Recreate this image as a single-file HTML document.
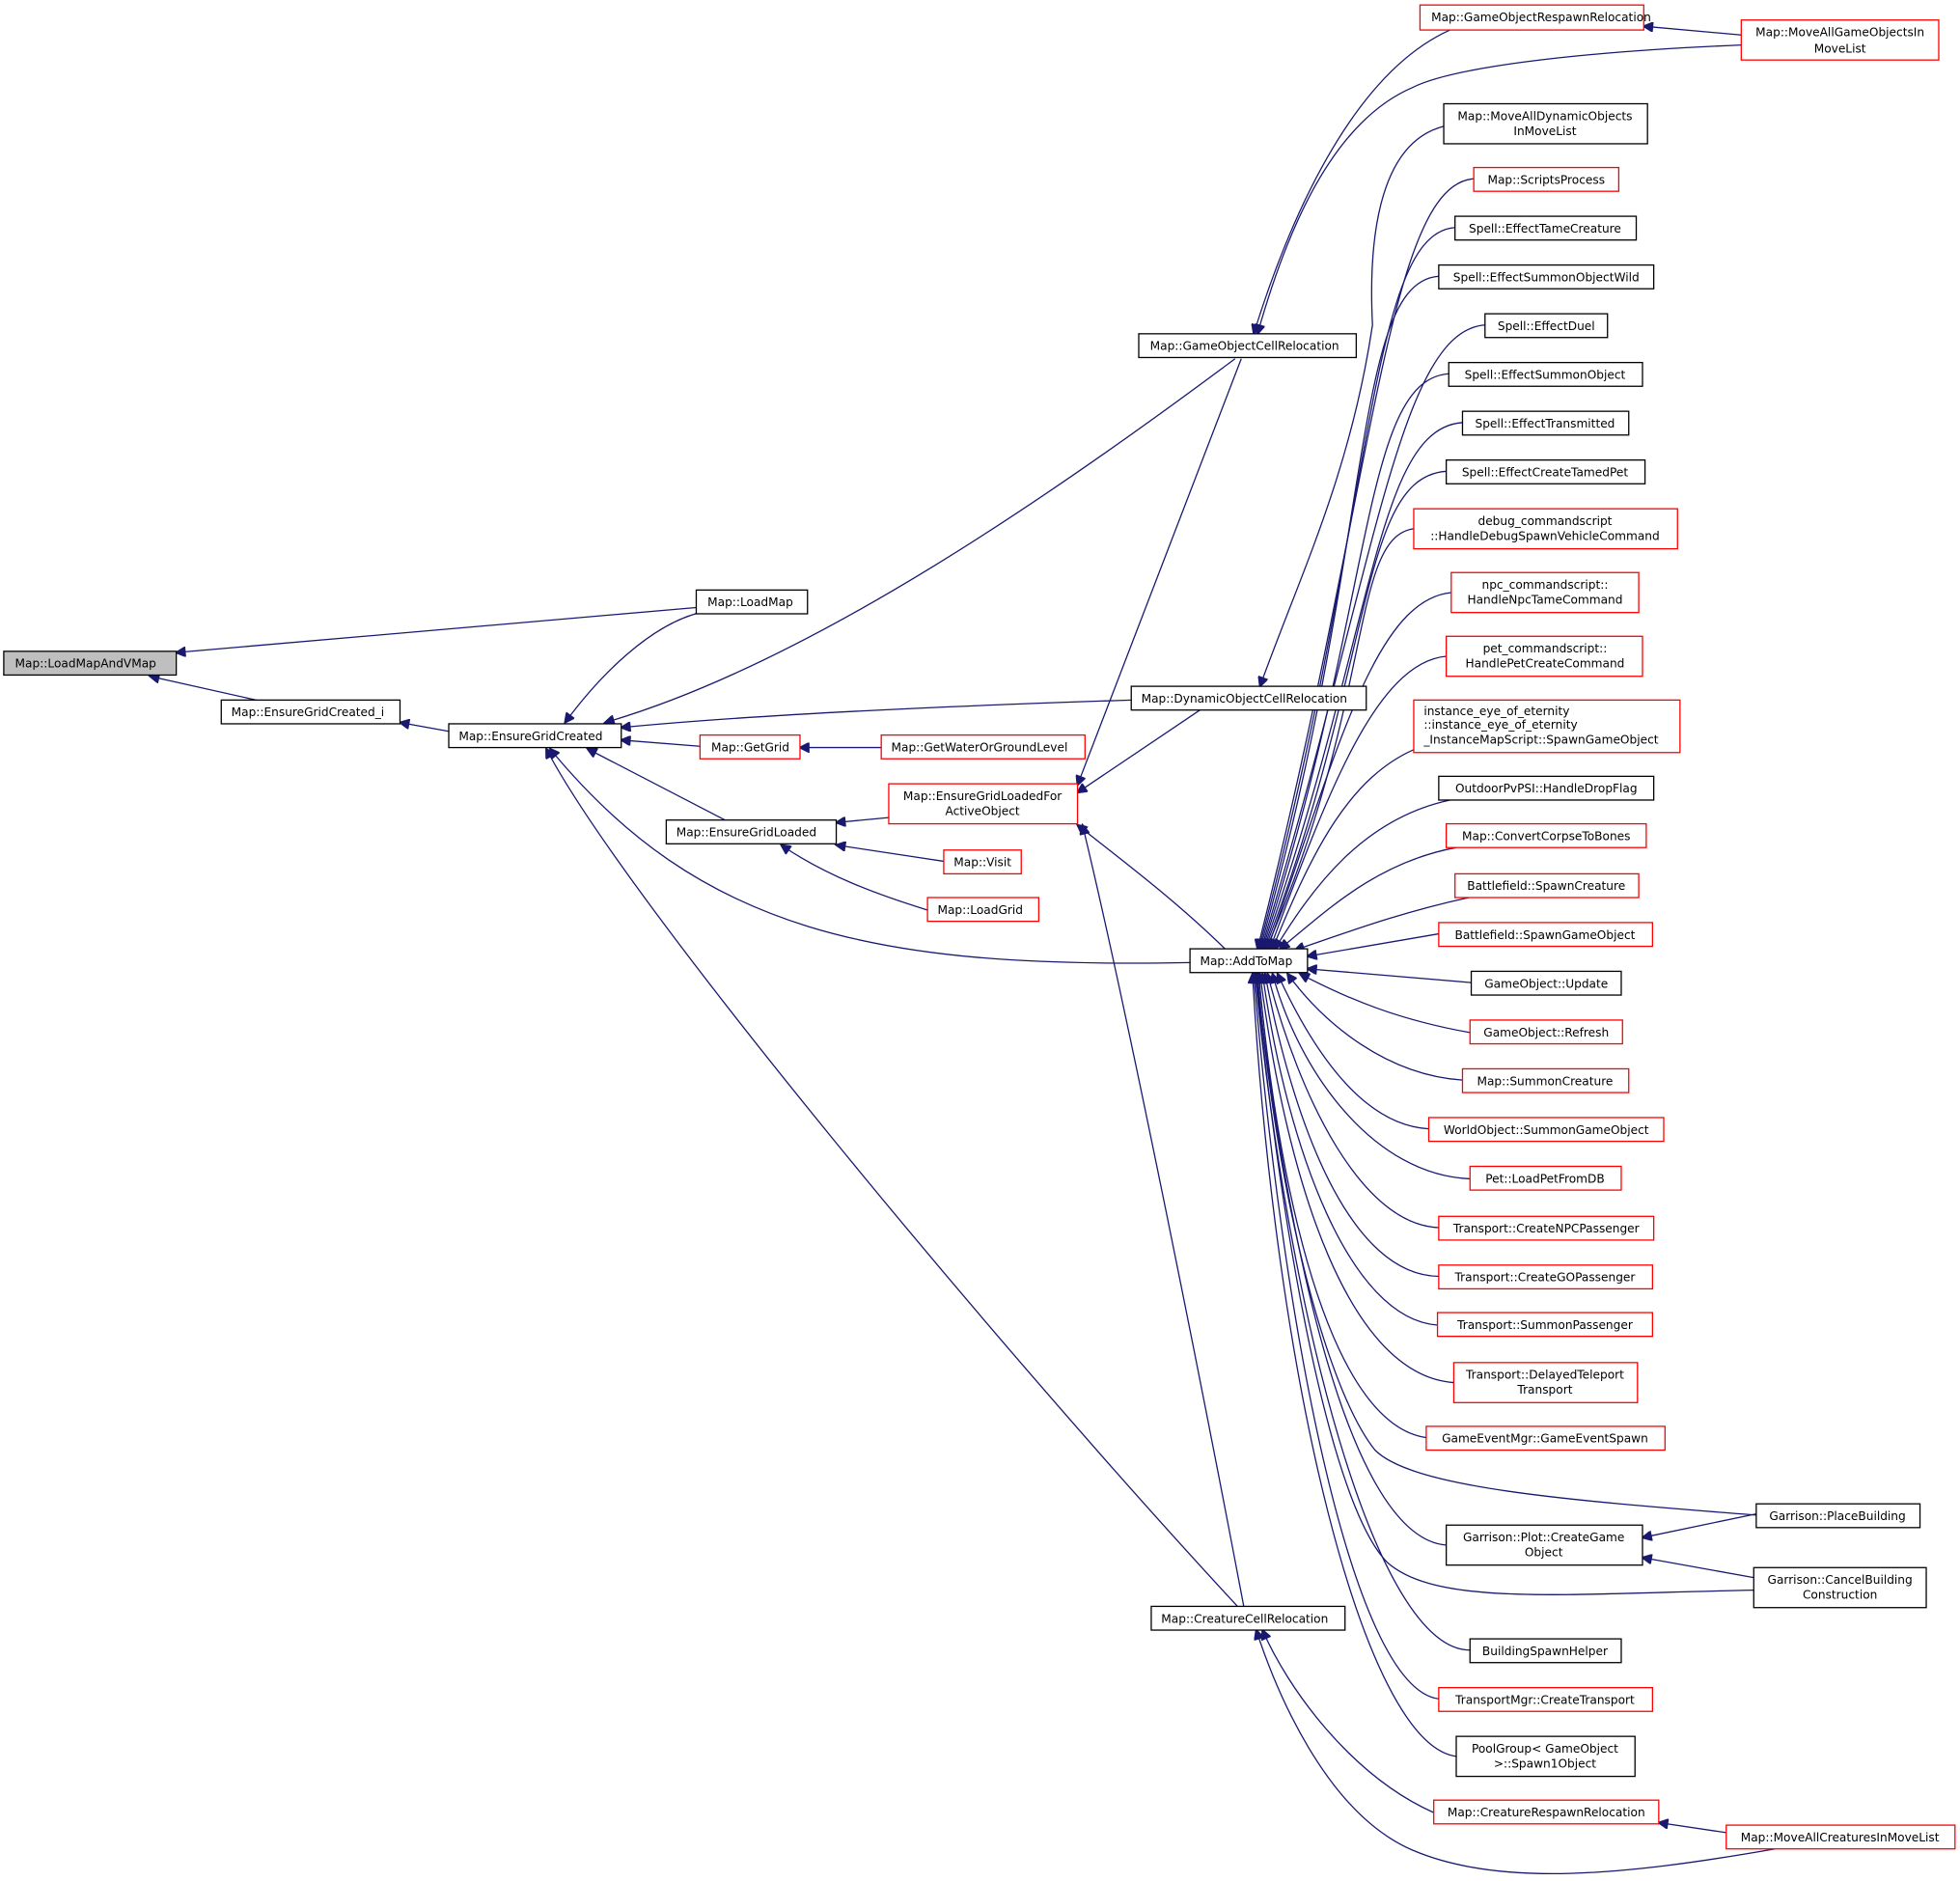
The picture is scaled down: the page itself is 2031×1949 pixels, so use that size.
<!DOCTYPE html>
<html><head><meta charset="utf-8"><style>
html,body{margin:0;padding:0;background:#fff;}
svg{display:block;}
text{font-family:"DejaVu Sans","Liberation Sans",sans-serif;font-size:9.4px;fill:#000;}
.b{fill:#fff;stroke:#000;stroke-width:1;}
.r{fill:#fff;stroke:#ff0000;stroke-width:1;}
.g{fill:#bfbfbf;stroke:#000;stroke-width:1;}
path{fill:none;stroke:#191970;stroke-width:1;}
</style></head><body>
<svg width="2031" height="1949" viewBox="0 0 1568 1504.7" xmlns="http://www.w3.org/2000/svg">
<defs><marker id="a" viewBox="0 0 10 10" refX="9" refY="5" markerWidth="10" markerHeight="8" orient="auto" markerUnits="userSpaceOnUse"><path d="M0,0 L10,5 L0,10 z" style="fill:#191970;stroke:#191970"/></marker></defs>
<g marker-end="url(#a)">
<path d="M557,486 L141,522"/>
<path d="M205,560 L120,541"/>
<path d="M359,585 L320,578"/>
<path d="M560,490 C520,500 480,540 452,578"/>
<path d="M988,287 C850,390 650,530 484,578"/>
<path d="M905,560 C750,565 600,572 497,582"/>
<path d="M560,597 L497,592"/>
<path d="M580,656 L470,599"/>
<path d="M952,770 C700,775 560,745 440,599"/>
<path d="M990,1285 C800,1080 500,720 437,599"/>
<path d="M705,598 L640,598"/>
<path d="M711,654 L669,658"/>
<path d="M755,689 L669,676"/>
<path d="M742,728 C700,715 660,700 625,676"/>
<path d="M993,287 L862,628"/>
<path d="M960,568 L862,634"/>
<path d="M980,759 C940,720 900,690 862,660"/>
<path d="M995,1285 C960,1100 900,800 866,660"/>
<path d="M1160,24 C1080,60 1030,180 1003,267"/>
<path d="M1393,36 C1250,42 1160,55 1130,70 C1060,100 1025,200 1006,267"/>
<path d="M1393,28 L1315,21"/>
<path d="M1155,101 C1100,115 1095,200 1098,260 C1080,380 1040,460 1008,549"/>
<path d="M1179,143 C1109,148 1100,389 1006,759"/>
<path d="M1164,182 C1094,187 1100,413 1007,759"/>
<path d="M1151,221 C1081,226 1100,436 1008,759"/>
<path d="M1188,260 C1118,265 1100,460 1009,759"/>
<path d="M1159,299 C1089,304 1100,483 1010,759"/>
<path d="M1170,338 C1100,343 1100,506 1011,759"/>
<path d="M1157,377 C1087,382 1100,530 1012,759"/>
<path d="M1131,423 C1080,430 1100,560 1013,759"/>
<path d="M1161,474 C1100,480 1070,600 1014,759"/>
<path d="M1157,525 C1100,530 1060,640 1016,759"/>
<path d="M1135,598 C1080,620 1050,680 1018,759"/>
<path d="M1160,640 C1090,655 1050,710 1020,759"/>
<path d="M1165,678 C1100,690 1060,730 1024,759"/>
<path d="M1175,718 C1120,730 1080,745 1036,760"/>
<path d="M1151,747 L1046,765"/>
<path d="M1177,786 L1046,775"/>
<path d="M1176,826 C1120,816 1080,800 1040,779"/>
<path d="M1170,864 C1110,860 1060,820 1030,779"/>
<path d="M1143,903 C1090,900 1050,840 1022,779"/>
<path d="M1176,943 C1100,940 1040,860 1018,779"/>
<path d="M1151,982 C1090,980 1040,880 1014,779"/>
<path d="M1151,1021 C1080,1020 1035,900 1012,779"/>
<path d="M1150,1060 C1080,1055 1030,920 1010,779"/>
<path d="M1163,1106 C1080,1100 1030,950 1008,779"/>
<path d="M1141,1150 C1070,1140 1025,980 1007,779"/>
<path d="M1405,1212 C1250,1200 1130,1190 1100,1160 C1060,1110 1020,950 1006,779"/>
<path d="M1157,1236 C1080,1230 1030,1000 1005,779"/>
<path d="M1403,1272 C1250,1275 1150,1285 1110,1250 C1060,1200 1020,950 1005,779"/>
<path d="M1176,1320 C1100,1320 1030,1050 1004,779"/>
<path d="M1151,1359 C1080,1350 1025,1050 1003,779"/>
<path d="M1165,1405 C1090,1395 1020,1100 1002,779"/>
<path d="M1405,1211 L1314,1230"/>
<path d="M1403,1262 L1314,1246"/>
<path d="M1147,1450 C1080,1420 1030,1350 1010,1304"/>
<path d="M1381,1466 L1327,1458"/>
<path d="M1420,1479 C1300,1500 1200,1510 1130,1480 C1060,1450 1020,1350 1005,1304"/>
</g>
<g>
<rect class="g" x="3" y="521" width="138" height="19"/><text x="12" y="534">Map::LoadMapAndVMap</text>
<rect class="b" x="177" y="560" width="143" height="19"/><text x="185" y="573">Map::EnsureGridCreated_i</text>
<rect class="b" x="359" y="579" width="138" height="19"/><text x="367" y="592">Map::EnsureGridCreated</text>
<rect class="b" x="557" y="472" width="89" height="19"/><text x="566" y="485">Map::LoadMap</text>
<rect class="r" x="560" y="588" width="80" height="19"/><text x="569" y="601">Map::GetGrid</text>
<rect class="b" x="533" y="656" width="136" height="19"/><text x="541" y="669">Map::EnsureGridLoaded</text>
<rect class="b" x="911" y="267" width="174" height="19"/><text x="920" y="280">Map::GameObjectCellRelocation</text>
<rect class="b" x="905" y="549" width="188" height="19"/><text x="913" y="562">Map::DynamicObjectCellRelocation</text>
<rect class="r" x="705" y="588" width="163" height="19"/><text x="713" y="601">Map::GetWaterOrGroundLevel</text>
<rect class="r" x="711" y="627" width="151" height="32"/><text x="786" y="640" text-anchor="middle">Map::EnsureGridLoadedFor</text><text x="786" y="652" text-anchor="middle">ActiveObject</text>
<rect class="r" x="755" y="680" width="62" height="19"/><text x="763" y="693">Map::Visit</text>
<rect class="r" x="742" y="718" width="89" height="19"/><text x="750" y="731">Map::LoadGrid</text>
<rect class="b" x="952" y="759" width="94" height="19"/><text x="960" y="772">Map::AddToMap</text>
<rect class="b" x="921" y="1285" width="155" height="19"/><text x="929" y="1298">Map::CreatureCellRelocation</text>
<rect class="r" x="1136" y="4" width="179" height="20"/><text x="1145" y="17">Map::GameObjectRespawnRelocation</text>
<rect class="r" x="1393" y="16" width="158" height="32"/><text x="1472" y="29" text-anchor="middle">Map::MoveAllGameObjectsIn</text><text x="1472" y="42" text-anchor="middle">MoveList</text>
<rect class="b" x="1155" y="83" width="163" height="32"/><text x="1236" y="96" text-anchor="middle">Map::MoveAllDynamicObjects</text><text x="1236" y="108" text-anchor="middle">InMoveList</text>
<rect class="r" x="1179" y="134" width="116" height="19"/><text x="1237" y="147" text-anchor="middle">Map::ScriptsProcess</text>
<rect class="b" x="1164" y="173" width="145" height="19"/><text x="1236" y="186" text-anchor="middle">Spell::EffectTameCreature</text>
<rect class="b" x="1151" y="212" width="172" height="19"/><text x="1237" y="225" text-anchor="middle">Spell::EffectSummonObjectWild</text>
<rect class="b" x="1188" y="251" width="98" height="19"/><text x="1237" y="264" text-anchor="middle">Spell::EffectDuel</text>
<rect class="b" x="1159" y="290" width="155" height="19"/><text x="1236" y="303" text-anchor="middle">Spell::EffectSummonObject</text>
<rect class="b" x="1170" y="329" width="133" height="19"/><text x="1236" y="342" text-anchor="middle">Spell::EffectTransmitted</text>
<rect class="b" x="1157" y="368" width="159" height="19"/><text x="1236" y="381" text-anchor="middle">Spell::EffectCreateTamedPet</text>
<rect class="r" x="1131" y="407" width="211" height="32"/><text x="1236" y="420" text-anchor="middle">debug_commandscript</text><text x="1236" y="432" text-anchor="middle">::HandleDebugSpawnVehicleCommand</text>
<rect class="r" x="1161" y="458" width="150" height="32"/><text x="1236" y="471" text-anchor="middle">npc_commandscript::</text><text x="1236" y="483" text-anchor="middle">HandleNpcTameCommand</text>
<rect class="r" x="1157" y="509" width="157" height="32"/><text x="1236" y="522" text-anchor="middle">pet_commandscript::</text><text x="1236" y="534" text-anchor="middle">HandlePetCreateCommand</text>
<rect class="r" x="1131" y="560" width="213" height="42"/><text x="1139" y="572">instance_eye_of_eternity</text><text x="1139" y="583">::instance_eye_of_eternity</text><text x="1139" y="595">_InstanceMapScript::SpawnGameObject</text>
<rect class="b" x="1151" y="621" width="172" height="19"/><text x="1237" y="634" text-anchor="middle">OutdoorPvPSI::HandleDropFlag</text>
<rect class="r" x="1157" y="659" width="160" height="19"/><text x="1237" y="672" text-anchor="middle">Map::ConvertCorpseToBones</text>
<rect class="r" x="1164" y="699" width="147" height="19"/><text x="1237" y="712" text-anchor="middle">Battlefield::SpawnCreature</text>
<rect class="r" x="1151" y="738" width="171" height="19"/><text x="1236" y="751" text-anchor="middle">Battlefield::SpawnGameObject</text>
<rect class="b" x="1177" y="777" width="120" height="19"/><text x="1237" y="790" text-anchor="middle">GameObject::Update</text>
<rect class="r" x="1176" y="816" width="122" height="19"/><text x="1237" y="829" text-anchor="middle">GameObject::Refresh</text>
<rect class="r" x="1170" y="855" width="133" height="19"/><text x="1236" y="868" text-anchor="middle">Map::SummonCreature</text>
<rect class="r" x="1143" y="894" width="188" height="19"/><text x="1237" y="907" text-anchor="middle">WorldObject::SummonGameObject</text>
<rect class="r" x="1176" y="933" width="121" height="19"/><text x="1236" y="946" text-anchor="middle">Pet::LoadPetFromDB</text>
<rect class="r" x="1151" y="973" width="172" height="19"/><text x="1237" y="986" text-anchor="middle">Transport::CreateNPCPassenger</text>
<rect class="r" x="1151" y="1012" width="171" height="19"/><text x="1236" y="1025" text-anchor="middle">Transport::CreateGOPassenger</text>
<rect class="r" x="1150" y="1050" width="172" height="19"/><text x="1236" y="1063" text-anchor="middle">Transport::SummonPassenger</text>
<rect class="r" x="1163" y="1090" width="147" height="32"/><text x="1236" y="1103" text-anchor="middle">Transport::DelayedTeleport</text><text x="1236" y="1115" text-anchor="middle">Transport</text>
<rect class="r" x="1141" y="1141" width="191" height="19"/><text x="1236" y="1154" text-anchor="middle">GameEventMgr::GameEventSpawn</text>
<rect class="b" x="1405" y="1203" width="131" height="19"/><text x="1470" y="1216" text-anchor="middle">Garrison::PlaceBuilding</text>
<rect class="b" x="1157" y="1220" width="157" height="32"/><text x="1235" y="1233" text-anchor="middle">Garrison::Plot::CreateGame</text><text x="1235" y="1245" text-anchor="middle">Object</text>
<rect class="b" x="1403" y="1254" width="138" height="32"/><text x="1472" y="1267" text-anchor="middle">Garrison::CancelBuilding</text><text x="1472" y="1279" text-anchor="middle">Construction</text>
<rect class="b" x="1176" y="1311" width="121" height="19"/><text x="1236" y="1324" text-anchor="middle">BuildingSpawnHelper</text>
<rect class="r" x="1151" y="1350" width="171" height="19"/><text x="1236" y="1363" text-anchor="middle">TransportMgr::CreateTransport</text>
<rect class="b" x="1165" y="1389" width="143" height="32"/><text x="1236" y="1402" text-anchor="middle">PoolGroup&lt; GameObject</text><text x="1236" y="1414" text-anchor="middle">&gt;::Spawn1Object</text>
<rect class="r" x="1147" y="1440" width="180" height="19"/><text x="1237" y="1453" text-anchor="middle">Map::CreatureRespawnRelocation</text>
<rect class="r" x="1381" y="1460" width="183" height="19"/><text x="1472" y="1473" text-anchor="middle">Map::MoveAllCreaturesInMoveList</text>
</g>
</svg>
</body></html>
